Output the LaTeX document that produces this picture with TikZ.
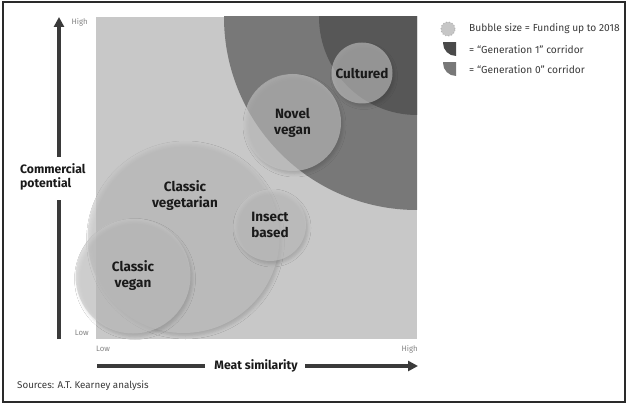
\documentclass[tikz,border=0pt]{standalone}
\usepackage{fontspec}
\setmainfont{Fira Sans}
\usetikzlibrary{shadows.blur,arrows.meta}

\definecolor{plotbg}{HTML}{C8C8C8}
\definecolor{genzero}{HTML}{787878}
\definecolor{genone}{HTML}{575757}
\definecolor{bubblefill}{HTML}{C6C6C6}
\definecolor{ink}{HTML}{1A1A1A}
\definecolor{axisgray}{HTML}{3A3A3A}
\definecolor{ticktext}{HTML}{858585}
\definecolor{legendink}{HTML}{3A3A3A}
\definecolor{frameline}{HTML}{2A2A2A}

\begin{document}
\begin{tikzpicture}[x=1pt,y=-1pt,
  bubble/.style={circle, inner sep=0pt, fill=bubblefill, fill opacity=0.6,
    text opacity=1, text=ink, align=center,
    font=\bfseries\fontsize{13.5}{16}\selectfont,
    blur shadow={shadow xshift=2pt, shadow yshift=-3pt,
      shadow blur radius=3pt, shadow opacity=25}},
  bubbletext/.style={text=ink, align=center, inner sep=0pt,
    font=\bfseries\fontsize{13.5}{16}\selectfont},
  axisbar/.style={line width=4.2pt, draw=axisgray},
  axistip/.style={-{Triangle[length=10pt,width=10pt]}},
  axislabel/.style={text=ink, inner sep=0pt,
    font=\bfseries\fontsize{12.2}{14}\selectfont},
  tick/.style={text=ticktext, inner sep=0pt, font=\fontsize{7.8}{9}\selectfont},
  legendtext/.style={text=legendink, anchor=west, inner sep=0pt,
    font=\fontsize{10.2}{12}\selectfont},
  sourcetext/.style={text=legendink, anchor=west, inner sep=0pt,
    font=\fontsize{9.8}{11}\selectfont},
]

% page and frame
\useasboundingbox (0,0) rectangle (628,403);
\fill[white] (0,0) rectangle (628,403);
\draw[frameline, line width=1.5pt] (3,2) rectangle (625,402);

% plot area with the two corridors around the top right corner
\fill[plotbg] (96,17) rectangle (417,339);
\begin{scope}
  \clip (96,17) rectangle (417,339);
  \fill[genzero] (417,17) circle[radius=193pt];
  \fill[genone] (417,17) circle[radius=98pt];
\end{scope}

% funding bubbles
\node[bubble, minimum size=192pt] (vegetarian) at (183.5,237) {};
\node[bubbletext] (vegetarianlabel) at (185,196) {Classic\\vegetarian};
\node[bubble, minimum size=115pt] (vegan) at (133,276) {Classic\\vegan};
\node[bubble, minimum size=72pt] (insect) at (270,225) {Insect\\based};
\node[bubble, minimum size=97pt] (novel) at (292.5,122.5) {Novel\\vegan};
\node[bubble, minimum size=61pt] (cultured) at (362,73) {Cultured};

% vertical axis
\coordinate (ybottom) at (59,339);
\coordinate (ybreaklow) at (59,200);
\coordinate (ybreakhigh) at (59,157);
\coordinate (ytop) at (59,17);
\draw[axisbar] (ybottom) -- (ybreaklow);
\draw[axisbar, axistip] (ybreakhigh) -- (ytop);
\node[axislabel, anchor=west, align=left] (ylabel) at (20,177) {Commercial\\potential};
\node[tick, anchor=east] (yhigh) at (88,22) {High};
\node[tick, anchor=east] (ylow) at (89,333) {Low};

% horizontal axis
\coordinate (xleft) at (97,366);
\coordinate (xbreakleft) at (205,366);
\coordinate (xbreakright) at (305,366);
\coordinate (xright) at (418,366);
\draw[axisbar] (xleft) -- (xbreakleft);
\draw[axisbar, axistip] (xbreakright) -- (xright);
\node[axislabel] (xlabel) at (256,366) {Meat similarity};
\node[tick, anchor=west] (xlow) at (96,349) {Low};
\node[tick, anchor=east] (xhigh) at (418,349) {High};

% source line
\node[sourcetext] (source) at (17,386) {Sources: A.T. Kearney analysis};

% legend
\fill[bubblefill] (448,29) circle[radius=7pt];
\draw[gray!60, line width=1pt, dotted] (448,29) circle[radius=7pt];
\begin{scope}
  \clip (443,43) rectangle (456,56);
  \fill[genone!85!black] (456,43) circle[radius=13pt];
\end{scope}
\begin{scope}
  \clip (443,63) rectangle (456,76);
  \fill[genzero] (456,63) circle[radius=13pt];
\end{scope}
\node[legendtext] (legbubble) at (469,29) {Bubble size = Funding up to 2018};
\node[legendtext] (leggenone) at (469,50) {= “Generation 1” corridor};
\node[legendtext] (leggenzero) at (469,70) {= “Generation 0” corridor};

\end{tikzpicture}
\end{document}
